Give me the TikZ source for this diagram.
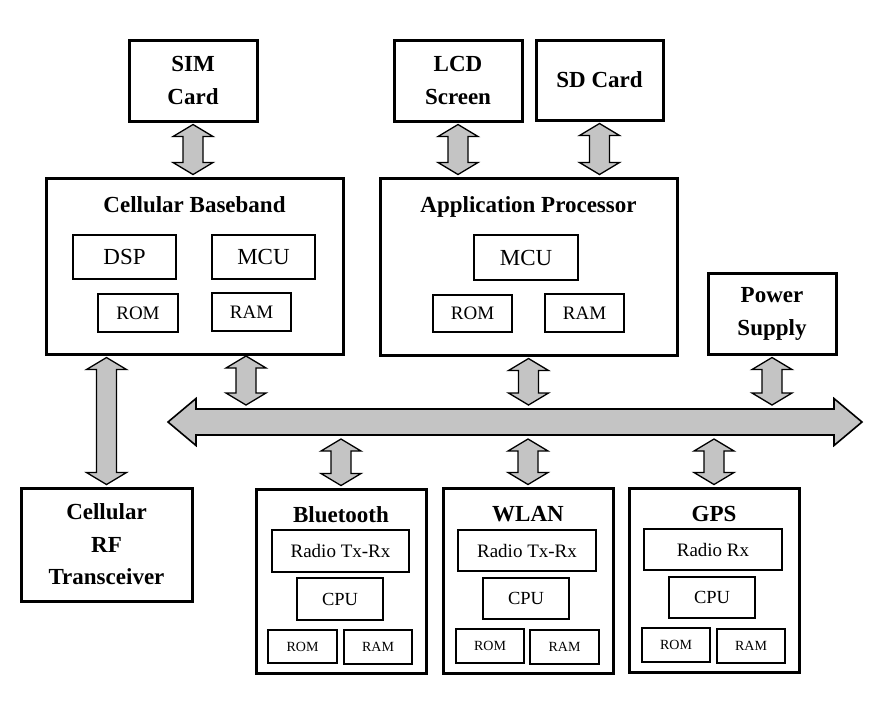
\documentclass[tikz,border=0pt]{standalone}
\usepackage{fontspec}
\setmainfont{Liberation Serif}
\usetikzlibrary{calc}
\definecolor{linkgray}{RGB}{196,196,196}

\begin{document}
\begin{tikzpicture}[x=1pt,y=-1pt,
  bigbox/.style={draw, line width=3pt, inner sep=0pt, align=center,
    font=\fontsize{23}{33}\selectfont\bfseries},
  smallbox/.style={draw, line width=1.3pt, inner sep=0pt,
    font=\fontsize{#1}{#1}\selectfont},
  modtitle/.style={anchor=base, font=\fontsize{23}{28}\selectfont\bfseries},
  vlink/.style={draw=black, fill=linkgray, line width=1.3pt, line join=miter,
    to path={let \p1=(\tikztostart), \p2=(\tikztotarget) in
      (\x1,\y1-2pt) -- (\x1+20pt,\y1-14pt) -- (\x1+10pt,\y1-14pt)
      -- (\x1+10pt,\y2+14pt) -- (\x1+20pt,\y2+14pt) -- (\x1,\y2+2pt)
      -- (\x1-20pt,\y2+14pt) -- (\x1-10pt,\y2+14pt)
      -- (\x1-10pt,\y1-14pt) -- (\x1-20pt,\y1-14pt) -- cycle}},
  hlink/.style={draw=black, fill=linkgray, line width=1.6pt, line join=miter,
    to path={let \p1=(\tikztostart), \p2=(\tikztotarget) in
      (\x1,\y1) -- (\x1+28pt,\y1+23.5pt) -- (\x1+28pt,\y1+13pt)
      -- (\x2-28pt,\y1+13pt) -- (\x2-28pt,\y1+23.5pt) -- (\x2,\y1)
      -- (\x2-28pt,\y1-23.5pt) -- (\x2-28pt,\y1-13pt)
      -- (\x1+28pt,\y1-13pt) -- (\x1+28pt,\y1-23.5pt) -- cycle}}
]
\useasboundingbox (0,0) rectangle (883,716);

% peripherals on top
\node[bigbox, minimum width=128, minimum height=81] (sim) at (193,80.5) {SIM\\Card};
\node[bigbox, minimum width=128, minimum height=81] (lcd) at (458,80.5) {LCD\\Screen};
\node[bigbox, minimum width=127, minimum height=80] (sd) at (599.5,80) {SD Card};

% cellular baseband
\node[bigbox, minimum width=297, minimum height=176] (bb) at (194.5,266) {};
\node[modtitle] (bbtitle) at (194.5,212) {Cellular Baseband};
\node[smallbox=23, minimum width=103, minimum height=44] (dsp) at (124.5,257) {DSP};
\node[smallbox=23, minimum width=103, minimum height=44] (bbmcu) at (263.5,257) {MCU};
\node[smallbox=19, minimum width=80, minimum height=38] (bbrom) at (138,313) {ROM};
\node[smallbox=19, minimum width=79, minimum height=38] (bbram) at (251.5,312) {RAM};

% application processor
\node[bigbox, minimum width=297, minimum height=177] (ap) at (528.5,266.5) {};
\node[modtitle] (aptitle) at (528.5,212) {Application Processor};
\node[smallbox=23, minimum width=104, minimum height=45] (apmcu) at (526,257.5) {MCU};
\node[smallbox=19, minimum width=79, minimum height=37] (aprom) at (472.5,313.5) {ROM};
\node[smallbox=19, minimum width=79, minimum height=38] (apram) at (584.5,313) {RAM};

\node[bigbox, minimum width=128, minimum height=81] (pwr) at (772,313.5) {Power\\Supply};
\node[bigbox, minimum width=171, minimum height=113,
  font=\fontsize{23}{32.5}\selectfont\bfseries] (rf) at (106.5,544.5) {Cellular\\RF\\Transceiver};

% bluetooth
\node[bigbox, minimum width=170, minimum height=184] (bt) at (341,581) {};
\node[modtitle] (bttitle) at (341,522) {Bluetooth};
\node[smallbox=19, minimum width=137, minimum height=42] (btradio) at (340.5,551) {Radio Tx-Rx};
\node[smallbox=18.5, minimum width=86, minimum height=42] (btcpu) at (340,599) {CPU};
\node[smallbox=14, minimum width=69, minimum height=33] (btrom) at (302.5,646.5) {ROM};
\node[smallbox=14, minimum width=68, minimum height=34, line width=2pt] (btram) at (378,647) {RAM};

% wlan
\node[bigbox, minimum width=170, minimum height=185] (wlan) at (528,580.5) {};
\node[modtitle] (wlantitle) at (528,521) {WLAN};
\node[smallbox=19, minimum width=138, minimum height=41] (wlanradio) at (527,550.5) {Radio Tx-Rx};
\node[smallbox=18.5, minimum width=86, minimum height=41] (wlancpu) at (526,598.5) {CPU};
\node[smallbox=14, minimum width=68, minimum height=34] (wlanrom) at (490,646) {ROM};
\node[smallbox=14, minimum width=69, minimum height=34] (wlanram) at (564.5,647) {RAM};

% gps
\node[bigbox, minimum width=170, minimum height=184] (gps) at (714,580) {};
\node[modtitle] (gpstitle) at (714,521) {GPS};
\node[smallbox=19, minimum width=138, minimum height=41] (gpsradio) at (713,549.5) {Radio Rx};
\node[smallbox=18.5, minimum width=86, minimum height=41] (gpscpu) at (712,597.5) {CPU};
\node[smallbox=14, minimum width=68, minimum height=34] (gpsrom) at (676,645) {ROM};
\node[smallbox=14, minimum width=68, minimum height=34] (gpsram) at (751,646) {RAM};

% system bus
\coordinate (busL) at (168,422);
\coordinate (busR) at (862,422);
\coordinate (busN) at (0,407);
\coordinate (busS) at (0,437);
\coordinate (bbport) at (246,354);
\draw[hlink] (busL) to (busR);

% links
\draw[vlink] (sim.south) to (bb.north);
\draw[vlink] (lcd.south) to (lcd.south |- ap.north);
\draw[vlink] (sd.south) to (sd.south |- ap.north);
\draw[vlink] (bb.south -| rf.north) to (rf.north);
\draw[vlink] (bbport) to (bbport |- busN);
\draw[vlink] (ap.south) to (ap.south |- busN);
\draw[vlink] (pwr.south) to (pwr.south |- busN);
\draw[vlink] (busS -| bt.north) to (bt.north);
\draw[vlink] (busS -| wlan.north) to (wlan.north);
\draw[vlink] (busS -| gps.north) to (gps.north);

\end{tikzpicture}
\end{document}
